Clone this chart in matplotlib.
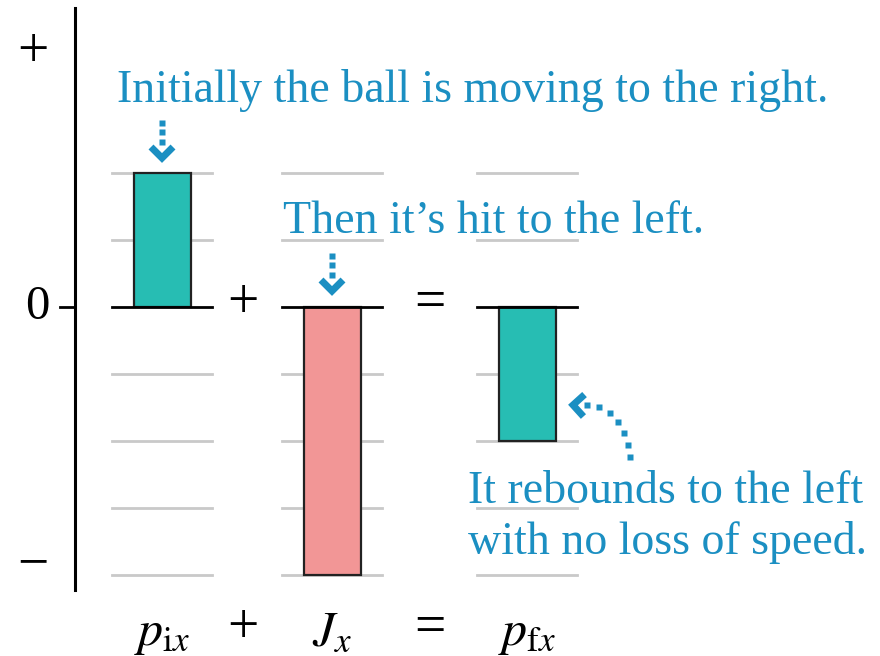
import matplotlib.pyplot as plt
import numpy as np

# momentum bar chart: p_ix + J_x = p_fx
etiquetas = [r'$p_{\mathrm{i}x}$', r'$J_x$', r'$p_{\mathrm{f}x}$']
valores = [2, -4, -2]
colores = ['#27bdb3', '#f29696', '#27bdb3']
niveles = [2, 1, -1, -2, -3, -4]   # grid lines (0 drawn in black)

# layout (pixel units on x, 1 unit = one grid step on y)
xpos = [162, 332, 527]
xops = [243, 430]
ops = ['+', '=']
ancho_barra = 57
ancho_linea = 100
azul = '#1b8fc2'
PX = 67.0  # pixels per unit

def yd(ypx):
    # pixel row (from top) -> data y
    return (307 - ypx) / PX

plt.rcParams['mathtext.fontset'] = 'stix'
fig = plt.figure(figsize=(8.8, 6.56), dpi=100)
ax = fig.add_axes([0, 0, 1, 1])
ax.set_xlim(0, 880)
ax.set_ylim(yd(656), yd(0))
ax.axis('off')

# grid segments per bar
for x in xpos:
    for n in niveles:
        ax.plot([x - ancho_linea / 2, x + ancho_linea / 2], [n, n], color='#c9c9c9', lw=2, zorder=1)
    ax.plot([x - ancho_linea / 2, x + ancho_linea / 2], [0, 0], color='black', lw=2, zorder=3)

ax.bar(xpos, valores, width=ancho_barra, color=colores, edgecolor='#222222', linewidth=1.6, zorder=2)

# vertical axis
ax.plot([75, 75], [yd(8), yd(590)], color='black', lw=2.2)
ax.plot([60, 75], [0, 0], color='black', lw=2)
fs = 33
fso = 40
serif = 'Liberation Serif'
ax.text(33, yd(53), '+', fontsize=fso, family=serif, ha='center', va='center')
ax.text(37, 0, '0', fontsize=fs + 2, family=serif, ha='center', va='center')
ax.text(33, yd(565), '\u2212', fontsize=fso, family=serif, ha='center', va='center')

# operators between bars and under them
for x, o in zip(xops, ops):
    ax.text(x, yd(304), o, fontsize=fso, family=serif, ha='center', va='center')
    ax.text(x, yd(629), o, fontsize=fso, family=serif, ha='center', va='center')
for x, e in zip(xpos, etiquetas):
    ax.text(x, yd(645), e, fontsize=36, ha='center', va='baseline')

# annotations
ax.text(117, yd(90), 'Initially the ball is moving to the right.', fontsize=fs, family=serif,
        color=azul, ha='left', va='center')
ax.text(283, yd(222), 'Then it\u2019s hit to the left.', fontsize=fs, family=serif,
        color=azul, ha='left', va='center')
ax.text(468, yd(492), 'It rebounds to the left', fontsize=fs, family=serif,
        color=azul, ha='left', va='center')
ax.text(468, yd(542), 'with no loss of speed.', fontsize=fs, family=serif,
        color=azul, ha='left', va='center')

def flecha(puntos, n_dots, apex, direc, tam=11):
    # dotted shaft of square dots + thick chevron head (pixel coords)
    puntos = np.array(puntos, dtype=float)
    seg = np.hypot(*np.diff(puntos, axis=0).T)
    s = np.concatenate([[0], np.cumsum(seg)])
    t = np.linspace(0, s[-1], n_dots)
    xs = np.interp(t, s, puntos[:, 0])
    ys = np.interp(t, s, puntos[:, 1])
    ax.plot(xs, yd(ys), ls='none', marker='s', ms=4, color=azul, mec='none')
    d = np.array(direc, dtype=float)
    d /= np.hypot(*d)
    perp = np.array([-d[1], d[0]])
    a = np.array(apex, dtype=float)
    b = a - d * tam + perp * tam
    c = a - d * tam - perp * tam
    ax.plot([b[0], a[0], c[0]], [yd(b[1]), yd(a[1]), yd(c[1])], color=azul, lw=5,
            solid_joinstyle='miter', solid_capstyle='butt')

flecha([(162, 123), (162, 142)], 3, (162, 158), (0, 1))
flecha([(332, 256), (332, 275)], 3, (332, 291), (0, 1))
tt = np.linspace(0, 1, 40)
p0, p1, p2 = np.array([630, 457]), np.array([624, 408]), np.array([587, 405])
curva = [(1 - u) ** 2 * p0 + 2 * u * (1 - u) * p1 + u ** 2 * p2 for u in tt]
flecha(curva, 7, (573, 405), (-1, -0.05))

fig.savefig('out.png', dpi=100)
